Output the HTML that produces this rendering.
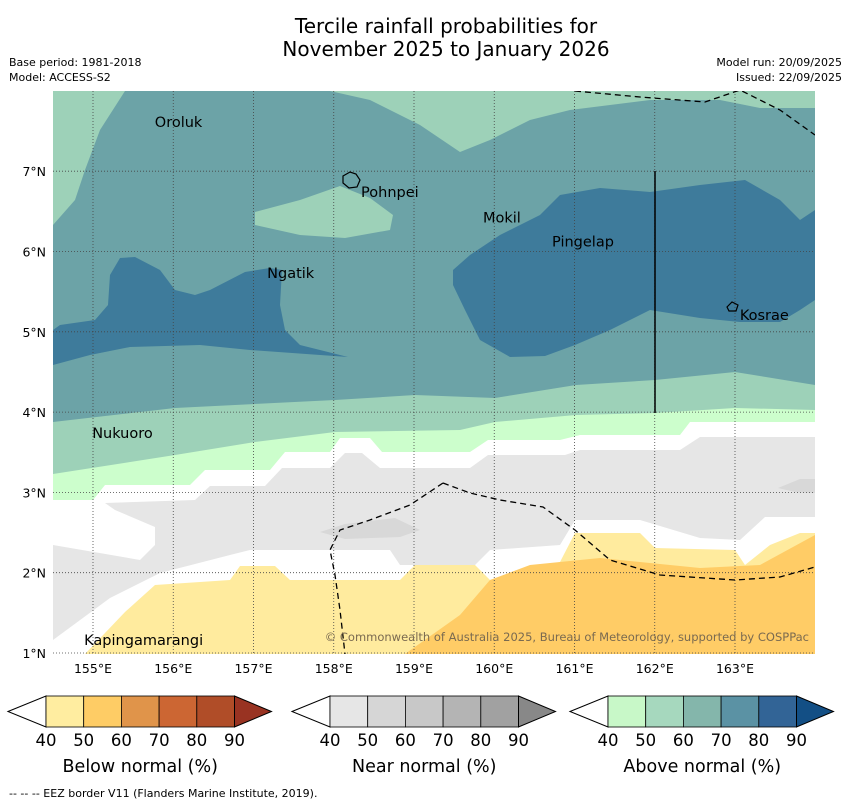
<!DOCTYPE html>
<html><head><meta charset="utf-8">
<style>
body{margin:0;background:#fff;font-family:"DejaVu Sans","Liberation Sans",sans-serif;}
svg{display:block}
text{font-family:"DejaVu Sans","Liberation Sans",sans-serif;}
</style></head>
<body>
<svg id="chart" width="850" height="804" viewBox="0 0 850 804" xmlns="http://www.w3.org/2000/svg">
<text x="446" y="33" font-size="20" text-anchor="middle">Tercile rainfall probabilities for</text>
<text x="446" y="56" font-size="20" text-anchor="middle">November 2025 to January 2026</text>
<text x="9" y="66" font-size="11">Base period: 1981-2018</text>
<text x="9" y="81" font-size="11">Model: ACCESS-S2</text>
<text x="842" y="66" font-size="11" text-anchor="end">Model run: 20/09/2025</text>
<text x="842" y="81" font-size="11" text-anchor="end">Issued: 22/09/2025</text>
<defs><clipPath id="pc"><rect x="53" y="91" width="762" height="563"/></clipPath></defs>
<g clip-path="url(#pc)">
<rect x="53" y="91" width="762" height="563" fill="#6ca3a7"/>
<path fill="#9dd1b8" d="M53,91 L125,91 L100,130 L85,170 L75,200 L53,225Z"/>
<path fill="#9dd1b8" d="M330,91 L370,100 L420,125 L460,152 L490,140 L530,120 L570,110 L650,100 L720,100 L760,108 L815,108 L815,91Z"/>
<path fill="#9dd1b8" d="M255,212 L300,200 L340,186 L370,198 L393,215 L390,230 L345,238 L300,235 L255,225Z"/>
<path fill="#3e7b9b" d="M53,330 L53,365 L90,355 L130,347 L200,345 L250,350 L348,357 L300,345 L285,330 L280,305 L282,270 L270,268 L245,272 L210,290 L195,295 L175,290 L160,270 L135,257 L120,258 L110,275 L108,305 L95,320 L60,325Z"/>
<path fill="#3e7b9b" d="M453,270 L470,255 L500,235 L540,215 L560,195 L600,188 L650,192 L700,185 L745,180 L780,200 L800,220 L815,210 L815,300 L800,310 L780,322 L740,322 L700,318 L650,310 L610,330 L575,345 L545,356 L510,357 L480,340 L465,310 L453,285Z"/>
<path fill="#9dd1b8" d="M53,422 L175,408 L335,400 L415,395 L495,398 L576,385 L655,380 L735,372 L815,385 L815,654 L53,654Z"/>
<path fill="#ccfecc" d="M53,474 L175,455 L255,442 L335,432 L460,430 L495,422 L576,415 L655,413 L735,408 L815,410 L815,654 L53,654Z"/>
<path fill="#ffffff" d="M53,500 L93,500 L105,485 L190,485 L205,470 L270,470 L285,452 L330,452 L340,438 L370,438 L382,452 L470,452 L488,440 L560,440 L580,435 L680,435 L690,422 L815,422 L815,654 L53,654Z"/>
<path fill="#e6e6e6" d="M105,503 L195,500 L210,486 L265,486 L282,468 L330,468 L345,453 L362,453 L380,468 L470,468 L488,455 L565,455 L580,450 L680,450 L700,437 L815,437 L815,517 L765,517 L740,540 L700,538 L640,520 L575,520 L560,545 L490,550 L475,565 L400,565 L390,550 L250,550 L230,555 L160,573 L110,598 L53,640 L53,545 L140,560 L155,545 L155,527 L115,510Z"/>
<path fill="#d8d8d8" d="M320,532 L345,524 L395,518 L420,530 L400,537 L345,539Z"/>
<path fill="#d8d8d8" d="M778,488 L800,479 L815,479 L815,493 L795,492Z"/>
<path fill="#ffeb9e" d="M85,654 L125,612 L155,585 L230,580 L240,566 L275,566 L290,580 L400,580 L415,565 L475,565 L490,580 L560,562 L575,533 L640,533 L655,548 L735,550 L745,565 L770,545 L800,533 L815,533 L815,654Z"/>
<path fill="#ffcc66" d="M405,654 L460,615 L490,580 L530,565 L600,558 L700,568 L760,565 L815,535 L815,654Z"/>
<g id="grid" stroke="#444" stroke-width="0.8" stroke-dasharray="1,2"></g>
<path d="M575,91 L640,97 L705,102 L740,90 L780,110 L815,135" fill="none" stroke="#000" stroke-width="1.3" stroke-dasharray="6,4"/>
<path d="M443,483 L470,493 L500,500 L543,507 L575,530 L610,560 L660,575 L735,580 L780,577 L815,567" fill="none" stroke="#000" stroke-width="1.3" stroke-dasharray="6,4"/>
<path d="M443,483 L410,505 L370,520 L340,530 L330,550 L335,575 L340,610 L345,654" fill="none" stroke="#000" stroke-width="1.3" stroke-dasharray="6,4"/>
<line x1="655" y1="171" x2="655" y2="413" stroke="#000" stroke-width="1.5"/>
<path d="M343,176 L350,172 L356,174 L360,180 L357,187 L349,188 L343,183Z" fill="none" stroke="#000" stroke-width="1.2"/>
<path d="M727,307 L732,302 L738,305 L736,311 L729,311Z" fill="none" stroke="#000" stroke-width="1.2"/>
<text x="809" y="641" font-size="11.5" fill="#7a6a50" text-anchor="end">© Commonwealth of Australia 2025, Bureau of Meteorology, supported by COSPPac</text>
</g>
<g id="places" font-size="14.5"></g>
<g id="axes" font-size="12.5"></g>
<g id="bars" font-size="16.5"></g>
<text x="9" y="797" font-size="11">--  --  -- EEZ border V11 (Flanders Marine Institute, 2019).</text>
</svg>
<script>
const lonTicks=[155,156,157,158,159,160,161,162,163];
const latTicks=[1,2,3,4,5,6,7];
const placeNames=["Oroluk","Pohnpei","Mokil","Pingelap","Ngatik","Kosrae","Nukuoro","Kapingamarangi"];
const placeLon=[155.77,158.34,159.86,160.72,157.17,163.06,154.99,154.89];
const placeLat=[7.55,6.68,6.36,6.06,5.67,5.15,3.68,1.1];
const barTicks=["40","50","60","70","80","90"];
const barTitles=["Below normal (%)","Near normal (%)","Above normal (%)"];
const barColors=[["#ffeda0","#fecc65","#e0944a","#cc6633","#b04d28","#993322"],
["#e6e6e6","#d6d6d6","#c8c8c8","#b4b4b4","#a1a1a1","#888888"],
["#c8f8c8","#a6d8be","#84b6ab","#5b92a4","#326496","#134f85"]];
const X=l=>93+(l-155)*80.25, Y=t=>653-(t-1)*80.3;
const NS="http://www.w3.org/2000/svg";
function mk(tag,attrs,parent,txt){const e=document.createElementNS(NS,tag);for(const k in attrs)e.setAttribute(k,attrs[k]);if(txt!==undefined)e.textContent=txt;parent.appendChild(e);return e;}
const grid=document.getElementById('grid'),axes=document.getElementById('axes'),places=document.getElementById('places'),bars=document.getElementById('bars');
lonTicks.forEach(l=>{const g=mk('line',{x1:X(l),x2:X(l),y1:91,y2:654},grid);


const t=mk('text',{x:X(l),y:673,'text-anchor':'middle'},axes,l+'°E');

});
latTicks.forEach(v=>{const g=mk('line',{x1:53,x2:815,y1:Y(v),y2:Y(v)},grid);


const t=mk('text',{x:46,y:Y(v)+5,'text-anchor':'end'},axes,v+'°N');

});
placeNames.forEach((n,i)=>{const t=mk('text',{x:X(placeLon[i]),y:Y(placeLat[i])},places,n);

});
const starts=[8,292,570];
starts.forEach((s,b)=>{const x0=s+38,w=37.7,y0=696,y1=727;
const g=mk('g',{},bars);


mk('path',{d:`M${s},${(y0+y1)/2} L${x0},${y0} L${x0},${y1}Z`,fill:'#fff',stroke:'#000','stroke-width':1},g);
for(let i=0;i<5;i++){const r=mk('rect',{x:x0+i*w,y:y0,width:w,height:y1-y0,fill:barColors[b][i],stroke:'#000','stroke-width':0.8},g);

}
const xe=x0+5*w;
mk('path',{d:`M${xe},${y0} L${xe+37},${(y0+y1)/2} L${xe},${y1}Z`,fill:barColors[b][5],stroke:'#000','stroke-width':1},g);
barTicks.forEach((t,i)=>{const e=mk('text',{x:x0+i*w,y:746,'text-anchor':'middle'},g,t);

});
const tt=mk('text',{x:x0+2.5*w,y:772,'text-anchor':'middle','font-size':17.5},g,barTitles[b]);

});
</script>
</body></html>
